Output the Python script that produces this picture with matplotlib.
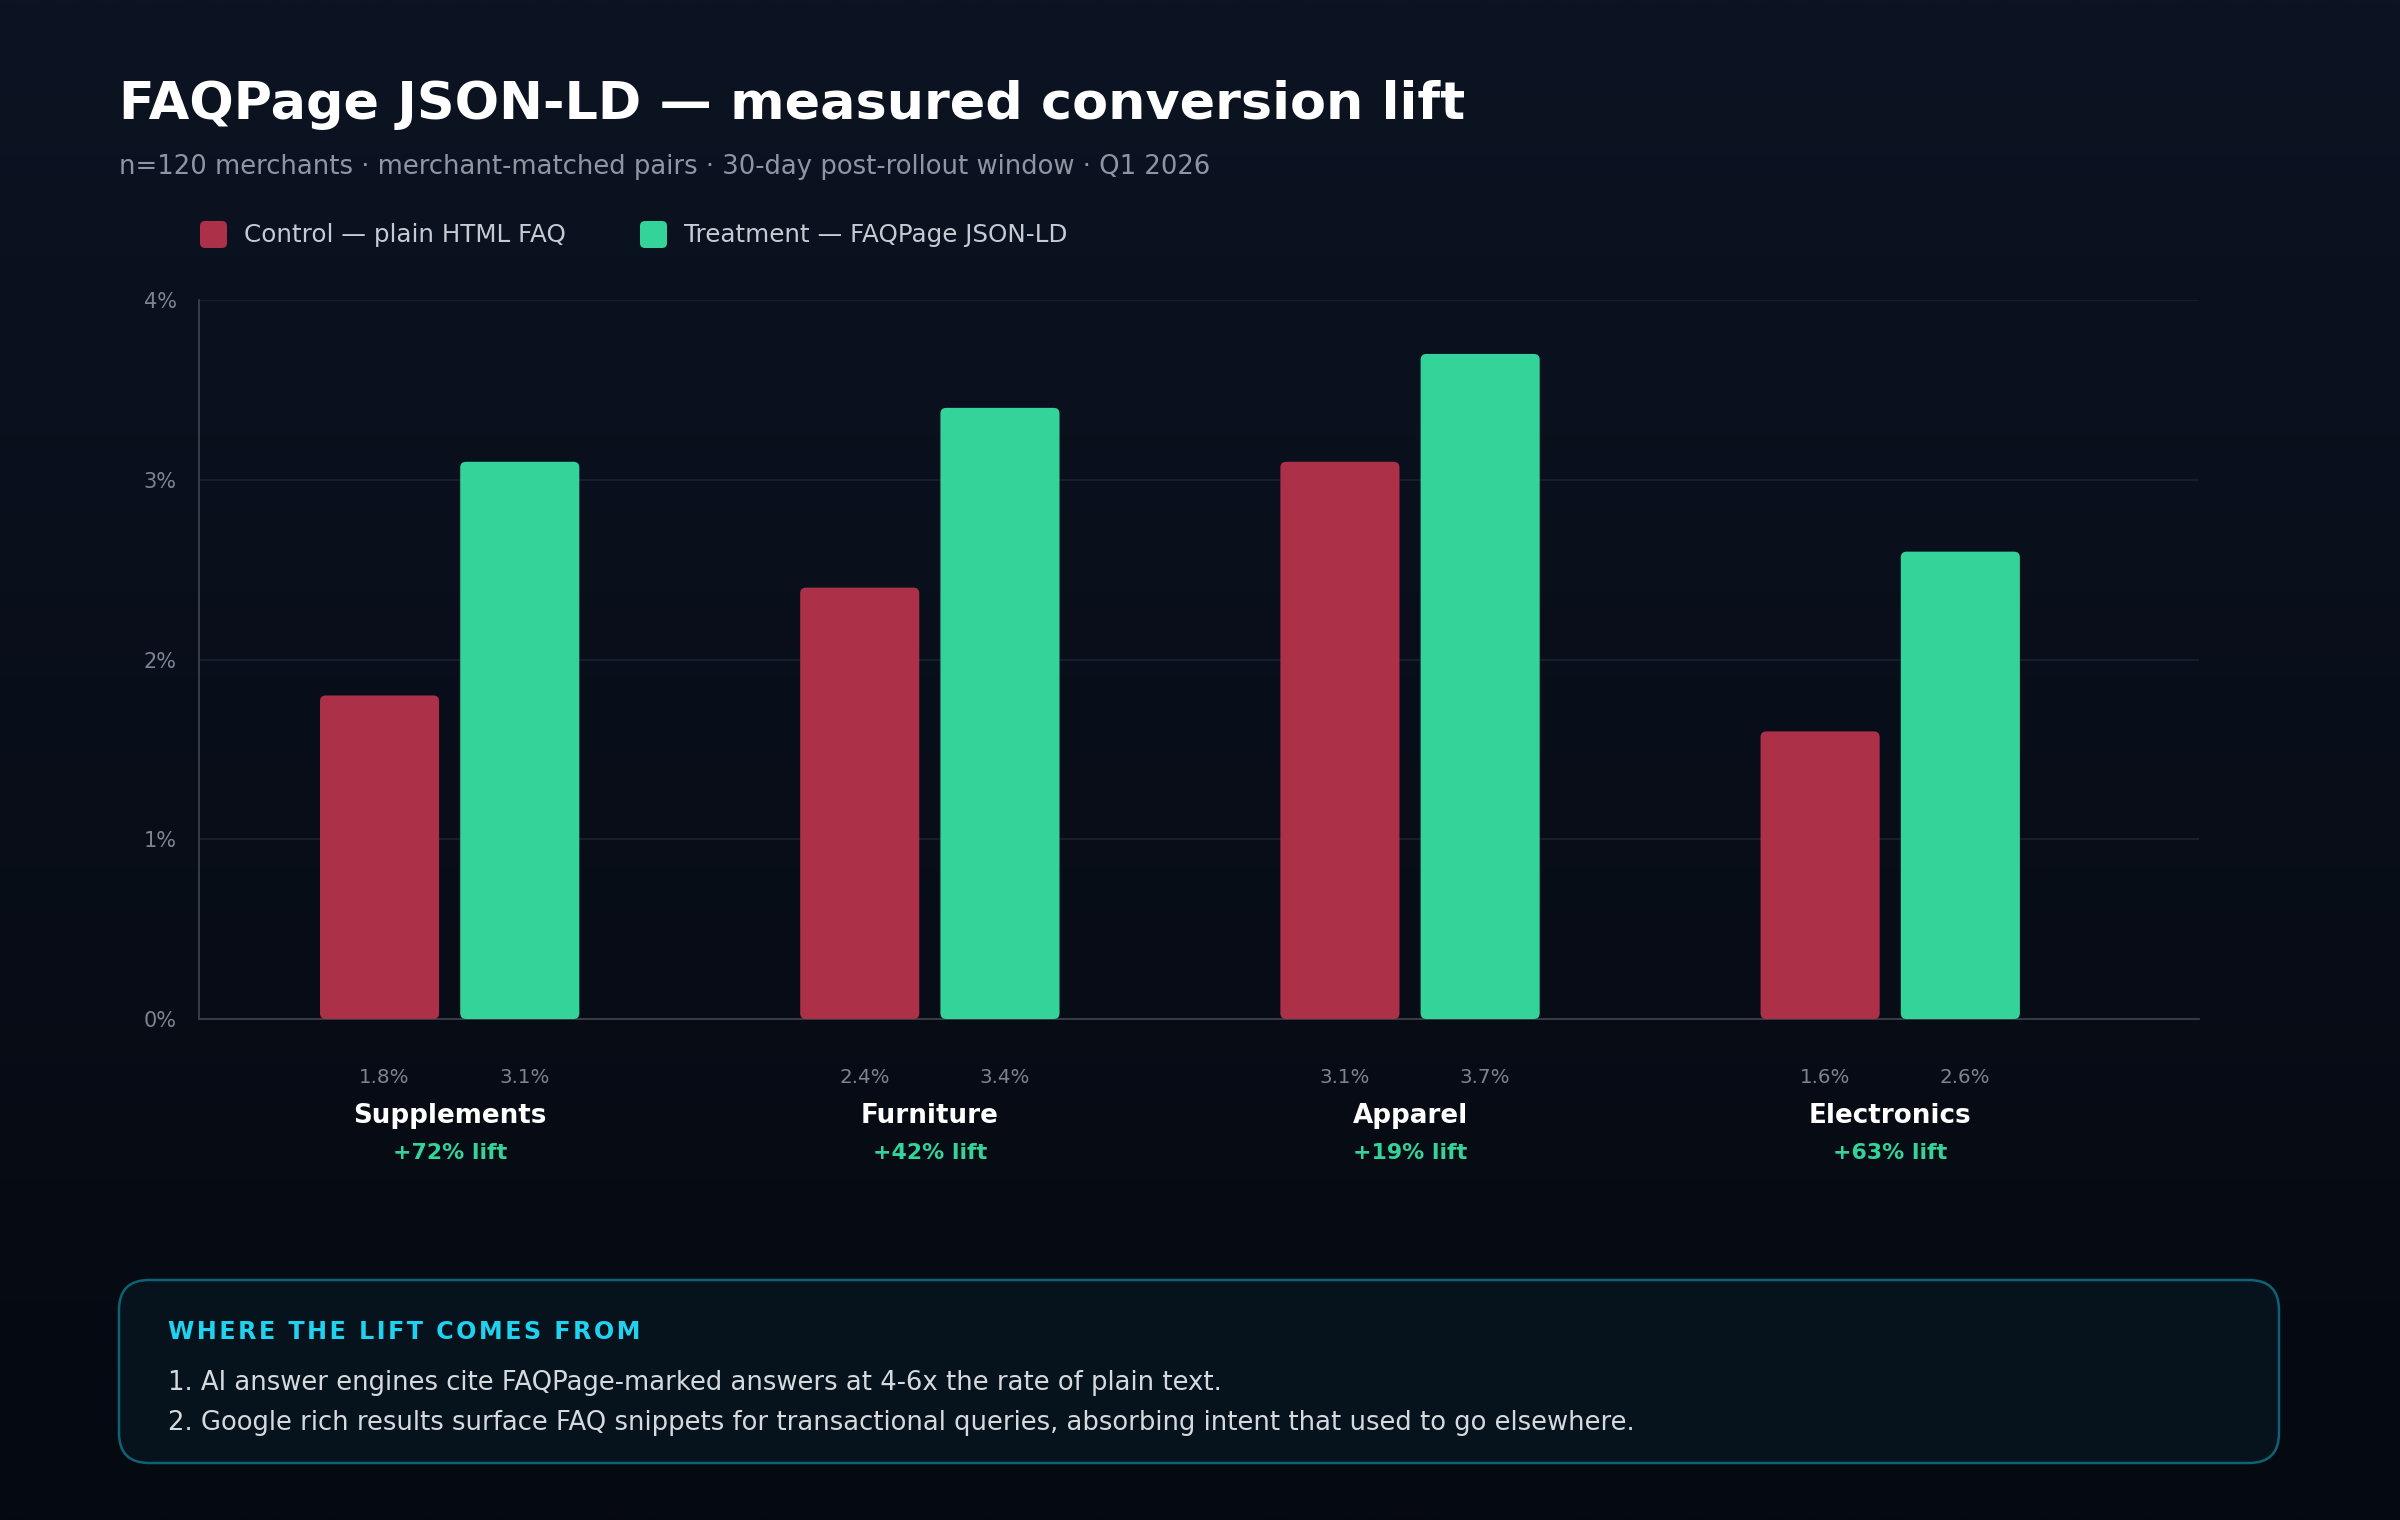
import numpy as np
import matplotlib
matplotlib.use("Agg")
import matplotlib.pyplot as plt
from matplotlib.patches import FancyBboxPatch
from matplotlib.ticker import FuncFormatter

# data
categories = ["Supplements", "Furniture", "Apparel", "Electronics"]
control = [1.8, 2.4, 3.1, 1.6]
treatment = [3.1, 3.4, 3.7, 2.6]
lifts = ["+72% lift", "+42% lift", "+19% lift", "+63% lift"]
series_names = ["Control \u2014 plain HTML FAQ", "Treatment \u2014 FAQPage JSON-LD"]
y_ticks = [0, 1, 2, 3, 4]

title = "FAQPage JSON-LD \u2014 measured conversion lift"
subtitle = "n=120 merchants \u00b7 merchant-matched pairs \u00b7 30-day post-rollout window \u00b7 Q1 2026"
box_heading = "WHERE THE LIFT COMES FROM"
box_lines = [
    "1. AI answer engines cite FAQPage-marked answers at 4-6x the rate of plain text.",
    "2. Google rich results surface FAQ snippets for transactional queries, absorbing intent that used to go elsewhere.",
]

RED = "#ad3049"
GREEN = "#34d399"
W, H = 2400, 1520

plt.rcParams['font.family'] = ['DejaVu Sans']
fig = plt.figure(figsize=(24, 15.2), dpi=100)

# background layer in pixel coords
bg = fig.add_axes([0, 0, 1, 1], zorder=-10)
bg.set_xlim(0, W)
bg.set_ylim(H, 0)
bg.axis("off")
top = np.array([12, 19, 34]) / 255
bot = np.array([5, 9, 16]) / 255
t = np.linspace(0, 1, 256)[:, None]
grad = (top[None, :] * (1 - t) + bot[None, :] * t)[:, None, :]
bg.imshow(grad, extent=[0, W, H, 0], aspect="auto", interpolation="bilinear")

bg.text(119, 105, title, fontsize=37.7, fontweight="bold", color="white", va="center", ha="left")
bg.text(119, 167, subtitle, fontsize=18.6, color="#8f96a3", va="center", ha="left")

# legend
for i, (name, col, x0) in enumerate(zip(series_names, [RED, GREEN], [200, 640])):
    bg.add_patch(FancyBboxPatch((x0, 221), 27, 27, boxstyle="round,pad=0,rounding_size=5",
                                fc=col, ec="none"))
    bg.text(x0 + 44, 235, name, fontsize=17.7, color="#c5cad3", va="center", ha="left")

# callout box
bg.add_patch(FancyBboxPatch((119, 1280), 2160, 183, boxstyle="round,pad=0,rounding_size=30",
                            fc="#06131c", ec="#0e6275", lw=1.8))
bg.text(168, 1332, "\u200a".join(box_heading), fontsize=17.2, fontweight="bold", color="#1ed2f0",
        va="center", ha="left")
bg.text(168, 1383, box_lines[0], fontsize=18.6, color="#d6d9de", va="center", ha="left")
bg.text(168, 1423, box_lines[1], fontsize=18.6, color="#d6d9de", va="center", ha="left")

# main chart
ax = fig.add_axes([199 / W, 1 - 1019 / H, 2000 / W, 719 / H])
ax.set_facecolor("none")
x = np.arange(len(categories))
bw = 0.248
off = 0.146
ax.set_xlim(-0.522, 3.643)
ax.set_ylim(0, 4)

bars_c = ax.bar(x - off, control, bw, color=RED)
bars_t = ax.bar(x + off, treatment, bw, color=GREEN)

# swap plain bars for rounded ones
asp = (4 / 719) / (4.165 / 2000)
for bars in (bars_c, bars_t):
    for b in bars:
        b.set_visible(False)
        ax.add_patch(FancyBboxPatch((b.get_x(), 0), b.get_width(), b.get_height(),
                                    boxstyle="round,pad=0,rounding_size=0.012",
                                    mutation_aspect=asp, fc=b.get_facecolor(), ec="none", zorder=3))

ax.set_yticks(y_ticks)
ax.yaxis.set_major_formatter(FuncFormatter(lambda v, p: f"{v:.0f}%"))
ax.tick_params(axis="y", length=0, pad=16, labelsize=15, labelcolor="#7d8390")
ax.set_xticks([])
ax.grid(axis="y", color="#1c2230", lw=1.2, zorder=0)
ax.set_axisbelow(True)
for s in ["top", "right"]:
    ax.spines[s].set_visible(False)
for s in ["left", "bottom"]:
    ax.spines[s].set_color("#3a404c")
    ax.spines[s].set_linewidth(1.3)

tr = ax.get_xaxis_transform()
for i in range(len(categories)):
    ax.text(x[i] - off + 0.01, -0.0807, f"{control[i]:.1f}%", transform=tr, ha="center", va="center",
            fontsize=14.3, color="#7d8390")
    ax.text(x[i] + off + 0.01, -0.0807, f"{treatment[i]:.1f}%", transform=tr, ha="center", va="center",
            fontsize=14.3, color="#7d8390")
    ax.text(x[i], -0.135, categories[i], transform=tr, ha="center", va="center",
            fontsize=18.8, fontweight="bold", color="white")
    ax.text(x[i], -0.186, lifts[i], transform=tr, ha="center", va="center",
            fontsize=15.8, fontweight="bold", color=GREEN)

fig.savefig("out.png", dpi=100)
